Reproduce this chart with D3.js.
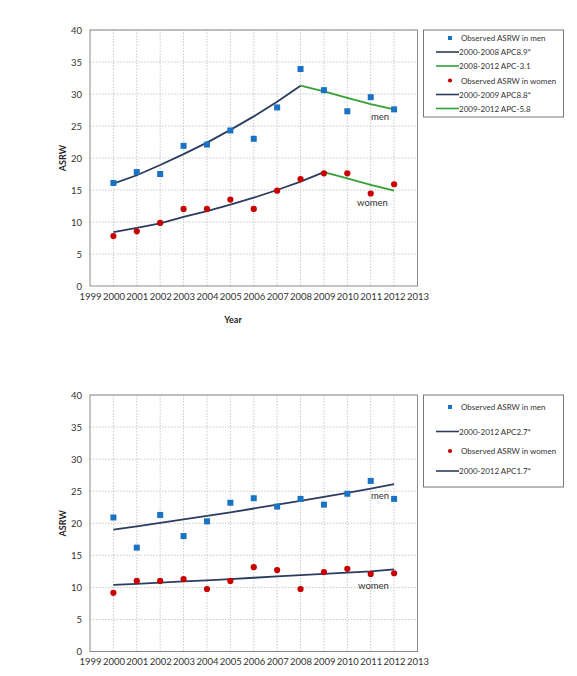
<!DOCTYPE html>
<html>
<head>
<meta charset="utf-8">
<script src="https://cdn.jsdelivr.net/npm/d3@7"></script>
<style>
  body { margin: 0; background: #fff; }
  svg { display: block; font-family: Lato, "Open Sans", sans-serif; }
</style>
</head>
<body>
<svg id="chart" width="577" height="676"></svg>
<script>
const years = [2000, 2001, 2002, 2003, 2004, 2005, 2006, 2007, 2008, 2009, 2010, 2011, 2012];
const xTicks = [1999, 2000, 2001, 2002, 2003, 2004, 2005, 2006, 2007, 2008, 2009, 2010, 2011, 2012, 2013];
const yTicks = [0, 5, 10, 15, 20, 25, 30, 35, 40];

// top panel
const menObsTop = [16.1, 17.8, 17.5, 21.9, 22.1, 24.3, 23.0, 27.9, 33.9, 30.6, 27.3, 29.5, 27.6];
const menFitTop1 = [16.0, 17.3, 18.9, 20.6, 22.4, 24.4, 26.5, 28.8, 31.3];            // 2000-2008
const menFitTop2 = [31.3, 30.4, 29.4, 28.4, 27.6];                                    // 2008-2012
const womenObsTop = [7.8, 8.55, 9.85, 12.05, 12.05, 13.5, 12.05, 14.9, 16.7, 17.6, 17.6, 14.45, 15.9];
const womenFitTop1 = [8.4, 9.1, 9.8, 10.8, 11.7, 12.7, 13.8, 15.0, 16.3, 17.8];        // 2000-2009
const womenFitTop2 = [17.8, 16.8, 15.8, 14.9];                                        // 2009-2012
const legendTop = ['Observed ASRW in men', '2000-2008 APC8.9*', '2008-2012 APC-3.1',
                   'Observed ASRW in women', '2000-2009 APC8.8*', '2009-2012 APC-5.8'];

// bottom panel
const menObsBot = [20.9, 16.2, 21.3, 18.0, 20.3, 23.2, 23.9, 22.6, 23.8, 22.9, 24.6, 26.6, 23.8];
const menFitBot = [19.0, 19.5, 20.05, 20.6, 21.15, 21.7, 22.3, 22.9, 23.5, 24.1, 24.75, 25.4, 26.1];
const womenObsBot = [9.15, 11.0, 11.0, 11.3, 9.75, 11.0, 13.15, 12.7, 9.75, 12.4, 12.9, 12.1, 12.2];
const womenFitBot = [10.4, 10.55, 10.75, 10.95, 11.1, 11.3, 11.5, 11.7, 11.9, 12.1, 12.3, 12.5, 12.8];
const legendBot = ['Observed ASRW in men', '2000-2012 APC2.7*', 'Observed ASRW in women', '2000-2012 APC1.7*'];

const BLUE = '#1a72c4', RED = '#c80000', NAVY = '#2b3c5e', GREEN = '#35a035';

const svg = d3.select('#chart');

function drawPanel(cfg) {
  const x = d3.scaleLinear().domain([1999, 2013]).range([90, 417.5]);
  const y = d3.scaleLinear().domain([0, 40]).range([cfg.bottom, cfg.top]);
  const g = svg.append('g');

  // grid
  g.append('g').selectAll('line').data(years.concat([])).join('line')
    .attr('x1', d => x(d)).attr('x2', d => x(d))
    .attr('y1', y(0)).attr('y2', y(40))
    .attr('stroke', '#c8c8c8').attr('stroke-dasharray', '1.5,1.5');
  g.append('g').selectAll('line').data(yTicks.slice(1)).join('line')
    .attr('x1', x(1999)).attr('x2', x(2013))
    .attr('y1', d => y(d)).attr('y2', d => y(d))
    .attr('stroke', '#c8c8c8').attr('stroke-dasharray', '1.5,1.5');

  g.append('rect')
    .attr('x', x(1999)).attr('y', y(40))
    .attr('width', x(2013) - x(1999)).attr('height', y(0) - y(40))
    .attr('fill', 'none').attr('stroke', '#8a8a8a');

  // axes
  const ax = g.append('g').attr('transform', `translate(0,${y(0)})`)
    .call(d3.axisBottom(x).tickValues(xTicks).tickFormat(d3.format('d')).tickSize(0).tickPadding(7));
  const ay = g.append('g').attr('transform', `translate(${x(1999)},0)`)
    .call(d3.axisLeft(y).tickValues(yTicks).tickSize(0).tickPadding(8));
  [ax, ay].forEach(a => {
    a.select('.domain').remove();
    a.selectAll('text').attr('font-size', 9.5).attr('fill', '#333')
      .attr('font-family', 'Lato, sans-serif');
  });

  g.append('text')
    .attr('transform', `translate(66,${(y(0) + y(40)) / 2}) rotate(-90)`)
    .attr('text-anchor', 'middle')
    .attr('font-size', 9).attr('font-weight', 'bold').attr('fill', '#222')
    .text('ASRW');
  if (cfg.xTitle) {
    g.append('text').attr('x', 233).attr('y', y(0) + 37)
      .attr('text-anchor', 'middle')
      .attr('font-size', 9).attr('font-weight', 'bold').attr('fill', '#222')
      .text('Year');
  }

  // fitted lines
  const line = d3.line().x(d => x(d[0])).y(d => y(d[1]));
  cfg.fits.forEach(f => {
    const pts = f.values.map((v, i) => [f.start + i, v]);
    g.append('path').datum(pts).attr('d', line)
      .attr('fill', 'none').attr('stroke', f.color).attr('stroke-width', 1.8);
  });

  // observed markers
  g.append('g').selectAll('rect').data(cfg.men).join('rect')
    .attr('x', (d, i) => x(years[i]) - 3).attr('y', d => y(d) - 3)
    .attr('width', 6).attr('height', 6).attr('fill', BLUE);
  g.append('g').selectAll('circle').data(cfg.women).join('circle')
    .attr('cx', (d, i) => x(years[i])).attr('cy', d => y(d))
    .attr('r', 3.1).attr('fill', RED);

  // series labels
  g.append('text').attr('x', cfg.menLab[0]).attr('y', cfg.menLab[1])
    .attr('font-size', 9.5).attr('fill', '#333').text('men');
  g.append('text').attr('x', cfg.womenLab[0]).attr('y', cfg.womenLab[1])
    .attr('font-size', 9.5).attr('fill', '#333').text('women');

  // legend
  const lg = g.append('g');
  lg.append('rect').attr('x', 423.5).attr('y', cfg.legendBox[0])
    .attr('width', 140).attr('height', cfg.legendBox[1])
    .attr('fill', '#fff').attr('stroke', '#777');
  cfg.legend.forEach((item, i) => {
    const ly = cfg.legendY[i];
    const kind = cfg.legendKind[i];
    if (kind === 'sq') {
      lg.append('rect').attr('x', 448).attr('y', ly - 2).attr('width', 4).attr('height', 4).attr('fill', BLUE);
    } else if (kind === 'dot') {
      lg.append('circle').attr('cx', 450).attr('cy', ly).attr('r', 2.1).attr('fill', RED);
    } else {
      lg.append('line').attr('x1', 436).attr('x2', 459).attr('y1', ly).attr('y2', ly)
        .attr('stroke', kind).attr('stroke-width', 1.6);
    }
    lg.append('text').attr('x', kind === 'sq' || kind === 'dot' ? 461 : 459).attr('y', ly + 3)
      .attr('font-size', 8).attr('fill', '#333').text(item);
  });
}

drawPanel({
  top: 30, bottom: 286, xTitle: true,
  men: menObsTop, women: womenObsTop,
  fits: [
    { start: 2000, values: menFitTop1, color: NAVY },
    { start: 2008, values: menFitTop2, color: GREEN },
    { start: 2000, values: womenFitTop1, color: NAVY },
    { start: 2009, values: womenFitTop2, color: GREEN }
  ],
  menLab: [371, 120], womenLab: [357, 206],
  legend: legendTop, legendKind: ['sq', NAVY, GREEN, 'dot', NAVY, GREEN],
  legendY: [38, 52, 66, 80.5, 94.5, 108.5], legendBox: [30, 87]
});

drawPanel({
  top: 395, bottom: 651.5, xTitle: false,
  men: menObsBot, women: womenObsBot,
  fits: [
    { start: 2000, values: menFitBot, color: NAVY },
    { start: 2000, values: womenFitBot, color: NAVY }
  ],
  menLab: [371, 499], womenLab: [358, 589],
  legend: legendBot, legendKind: ['sq', NAVY, 'dot', NAVY],
  legendY: [407, 431.5, 451, 471], legendBox: [395, 92]
});
</script>
</body>
</html>
